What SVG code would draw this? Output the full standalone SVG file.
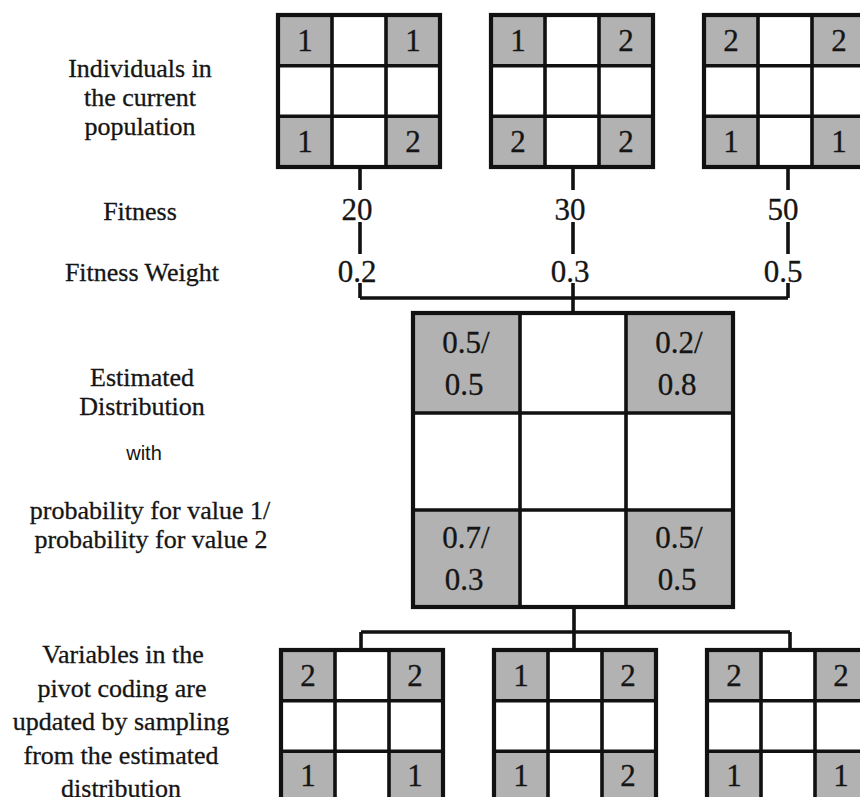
<svg xmlns="http://www.w3.org/2000/svg" xmlns:xlink="http://www.w3.org/1999/xlink" width="860" height="797" viewBox="0 0 860 797">
  <style>
    .label { font-size: 26px; fill: #151515; stroke: #151515; stroke-width: 0.3; text-anchor: middle; }
    .sans { font-size: 20px; fill: #151515; text-anchor: middle; }
    .val { font-size: 31px; fill: #151515; stroke: #151515; stroke-width: 0.3; text-anchor: middle; }
    .gray { fill: #b2b2b2; }
    .white { fill: #ffffff; }
    .frame { fill: none; stroke: #111; stroke-width: 4.2; }
    .inner { fill: none; stroke: #111; stroke-width: 3.6; }
    .wire { fill: none; stroke: #111; stroke-width: 3.6; }
  </style>
  <defs>
    <!-- 3x3 coding grid, corner cells shaded -->
    <g id="small-grid">
      <rect class="white" x="0" y="0" width="162" height="152"/>
      <rect class="gray" x="0" y="0" width="54" height="50.7"/>
      <rect class="gray" x="108" y="0" width="54" height="50.7"/>
      <rect class="gray" x="0" y="101.3" width="54" height="50.7"/>
      <rect class="gray" x="108" y="101.3" width="54" height="50.7"/>
      <path class="inner" d="M54 0V152M108 0V152M0 50.7H162M0 101.3H162"/>
      <rect class="frame" x="0" y="0" width="162" height="152"/>
    </g>
  </defs>
  <rect width="860" height="797" fill="#ffffff"/>

  <g font-family="Liberation Serif, serif">
  <!-- row captions -->
  <g id="captions">
    <text class="label" x="140" y="77">Individuals in</text>
    <text class="label" x="140" y="106">the current</text>
    <text class="label" x="140" y="135">population</text>
    <text class="label" x="140" y="220">Fitness</text>
    <text class="label" x="142" y="281">Fitness Weight</text>
    <text class="label" x="142" y="386">Estimated</text>
    <text class="label" x="142" y="415">Distribution</text>
    <text class="sans" x="144" y="460" font-family="Liberation Sans, sans-serif">with</text>
    <text class="label" x="150" y="519">probability for value 1/</text>
    <text class="label" x="151" y="548">probability for value 2</text>
    <text class="label" x="123" y="663">Variables in the</text>
    <text class="label" x="122" y="697">pivot coding are</text>
    <text class="label" x="121" y="730">updated by sampling</text>
    <text class="label" x="121" y="764">from the estimated</text>
    <text class="label" x="121" y="797">distribution</text>
  </g>

  <!-- connectors -->
  <g id="connectors">
    <path class="wire" d="M360 167V190M360 222V254M360 283V298"/>
    <path class="wire" d="M573 167V190M573 222V254M573 283V298"/>
    <path class="wire" d="M788 167V190M788 222V254M788 283V298"/>
    <path class="wire" d="M360 298H788M573 298V313"/>
    <path class="wire" d="M574 607V632M361 632H790M361 632V650M574 632V650M790 632V650"/>
  </g>

  <!-- fitness values and weights -->
  <g id="fitness">
    <text class="val" x="357" y="220">20</text>
    <text class="val" x="570" y="220">30</text>
    <text class="val" x="783" y="220">50</text>
    <text class="val" x="357" y="282">0.2</text>
    <text class="val" x="570" y="282">0.3</text>
    <text class="val" x="783" y="282">0.5</text>
  </g>

  <!-- current population -->
  <g id="individual-1">
    <use xlink:href="#small-grid" x="278" y="15"/>
    <text class="val" x="305" y="51">1</text>
    <text class="val" x="413" y="51">1</text>
    <text class="val" x="305" y="152">1</text>
    <text class="val" x="413" y="152">2</text>
  </g>
  <g id="individual-2">
    <use xlink:href="#small-grid" x="491" y="15"/>
    <text class="val" x="518" y="51">1</text>
    <text class="val" x="626" y="51">2</text>
    <text class="val" x="518" y="152">2</text>
    <text class="val" x="626" y="152">2</text>
  </g>
  <g id="individual-3">
    <use xlink:href="#small-grid" x="704" y="15"/>
    <text class="val" x="731" y="51">2</text>
    <text class="val" x="839" y="51">2</text>
    <text class="val" x="731" y="152">1</text>
    <text class="val" x="839" y="152">1</text>
  </g>

  <!-- estimated distribution -->
  <g id="distribution">
    <rect class="white" x="413" y="313" width="320" height="294"/>
    <rect class="gray" x="413" y="313" width="107" height="100"/>
    <rect class="gray" x="626" y="313" width="107" height="100"/>
    <rect class="gray" x="413" y="510" width="107" height="97"/>
    <rect class="gray" x="626" y="510" width="107" height="97"/>
    <path class="inner" d="M520 313V607M626 313V607M413 413H733M413 510H733"/>
    <rect class="frame" x="413" y="313" width="320" height="294"/>
    <text class="val" x="466" y="353">0.5/</text>
    <text class="val" x="464" y="395">0.5</text>
    <text class="val" x="679" y="353">0.2/</text>
    <text class="val" x="677" y="395">0.8</text>
    <text class="val" x="466" y="548">0.7/</text>
    <text class="val" x="464" y="590">0.3</text>
    <text class="val" x="679" y="548">0.5/</text>
    <text class="val" x="677" y="590">0.5</text>
  </g>

  <!-- sampled individuals -->
  <g id="sample-1">
    <use xlink:href="#small-grid" x="281" y="650"/>
    <text class="val" x="308" y="686">2</text>
    <text class="val" x="415" y="686">2</text>
    <text class="val" x="308" y="786">1</text>
    <text class="val" x="415" y="786">1</text>
  </g>
  <g id="sample-2">
    <use xlink:href="#small-grid" x="494" y="650"/>
    <text class="val" x="521" y="686">1</text>
    <text class="val" x="628" y="686">2</text>
    <text class="val" x="521" y="786">1</text>
    <text class="val" x="628" y="786">2</text>
  </g>
  <g id="sample-3">
    <use xlink:href="#small-grid" x="707" y="650"/>
    <text class="val" x="734" y="686">2</text>
    <text class="val" x="841" y="686">2</text>
    <text class="val" x="734" y="786">1</text>
    <text class="val" x="841" y="786">1</text>
  </g>
  </g>
</svg>
